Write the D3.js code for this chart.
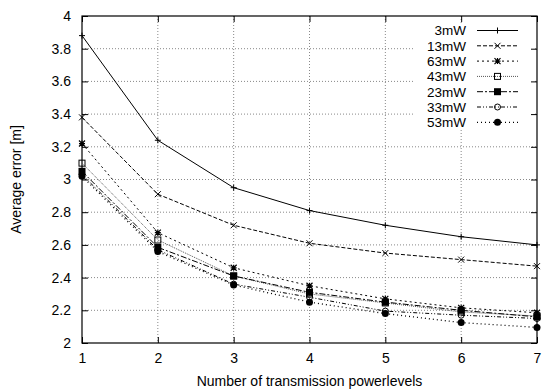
<!DOCTYPE html>
<html><head><meta charset="utf-8">
<script src="https://cdn.jsdelivr.net/npm/d3@7"></script>
<style>body{margin:0;background:#fff}text{font-family:"Liberation Sans",Arial,sans-serif}</style>
</head><body><svg id="c" width="542" height="392"></svg>
<script>
const xValues = [1,2,3,4,5,6,7];
const seriesNames = ["3mW","13mW","63mW","43mW","23mW","33mW","53mW"];
const s3mW  = [3.88,3.24,2.95,2.81,2.72,2.65,2.60];
const s13mW = [3.38,2.91,2.72,2.61,2.55,2.51,2.47];
const s63mW = [3.22,2.675,2.46,2.35,2.27,2.215,2.185];
const s43mW = [3.10,2.63,2.41,2.30,2.245,2.19,2.165];
const s23mW = [3.05,2.585,2.41,2.31,2.25,2.20,2.16];
const s33mW = [3.03,2.57,2.36,2.28,2.195,2.17,2.15];
const s53mW = [3.02,2.56,2.355,2.25,2.18,2.125,2.095];
const xTicks = [1,2,3,4,5,6,7];
const yTicks = [2,2.2,2.4,2.6,2.8,3,3.2,3.4,3.6,3.8,4];
const allSeries = [s3mW,s13mW,s63mW,s43mW,s23mW,s33mW,s53mW];

const styles = [
 {dash:null, marker:"plus", color:"#000", w:1},
 {dash:"4,2", marker:"cross", color:"#000", w:1},
 {dash:"2,3", marker:"star", color:"#000", w:1},
 {dash:"1,1", marker:"osquare", color:"#555", w:1},
 {dash:"6,2,2,2", marker:"fsquare", color:"#000", w:1},
 {dash:"4,2,1,2,1,2", marker:"ocircle", color:"#000", w:1},
 {dash:"1,3", marker:"fcircle", color:"#000", w:1.3}
];

const svg = d3.select("#c");
const L=82,R=537,T=16,B=343;
const FS=14;
const x = d3.scaleLinear().domain([1,7]).range([L,R]);
const y = d3.scaleLinear().domain([2,4]).range([B,T]);

// grid
svg.append("g").selectAll("line").data(yTicks.slice(1,-1)).join("line")
 .attr("x1",L).attr("x2",R).attr("y1",d=>y(d)).attr("y2",d=>y(d))
 .attr("stroke","#888").attr("stroke-dasharray","1,2").attr("stroke-width",1);
svg.append("g").selectAll("line").data(xTicks.slice(1,-1)).join("line")
 .attr("y1",T).attr("y2",B).attr("x1",d=>x(d)).attr("x2",d=>x(d))
 .attr("stroke","#888").attr("stroke-dasharray","1,2").attr("stroke-width",1);

// legend background
svg.append("rect").attr("x",413).attr("y",23).attr("width",122).attr("height",107).attr("fill","#fff");

// axes
const ax = svg.append("g").attr("transform",`translate(0,${B})`).call(d3.axisBottom(x).tickValues(xTicks).tickSize(-6).tickPadding(10).tickFormat(d3.format("d")));
const ay = svg.append("g").attr("transform",`translate(${L},0)`).call(d3.axisLeft(y).tickValues(yTicks).tickSize(-6).tickPadding(11).tickFormat(d=>d3.format("")(+d.toFixed(1))));
const axT = svg.append("g").attr("transform",`translate(0,${T})`).call(d3.axisTop(x).tickValues(xTicks).tickSize(-6).tickFormat(""));
const ayR = svg.append("g").attr("transform",`translate(${R},0)`).call(d3.axisRight(y).tickValues(yTicks).tickSize(-6).tickFormat(""));
[ax,ay,axT,ayR].forEach(g=>{g.select(".domain").remove();g.selectAll("text").attr("font-size",FS).attr("fill","#000").style("font-family","Liberation Sans,Arial,sans-serif");g.selectAll("line").attr("stroke","#000");});
svg.append("rect").attr("x",L).attr("y",T).attr("width",R-L).attr("height",B-T).attr("fill","none").attr("stroke","#000").attr("stroke-width",1.2);

// axis titles
svg.append("text").attr("x",(L+R)/2).attr("y",386).attr("text-anchor","middle").attr("font-size",FS).text("Number of transmission powerlevels");
svg.append("text").attr("transform",`translate(21,${(T+B)/2}) rotate(-90)`).attr("text-anchor","middle").attr("font-size",FS).text("Average error [m]");

function marker(g,type,cx,cy,color){
  const s=3;
  if(type==="plus"){g.append("path").attr("d",`M${cx-s},${cy}H${cx+s}M${cx},${cy-s}V${cy+s}`).attr("stroke",color).attr("stroke-width",1);}
  else if(type==="cross"){g.append("path").attr("d",`M${cx-s},${cy-s}L${cx+s},${cy+s}M${cx-s},${cy+s}L${cx+s},${cy-s}`).attr("stroke",color).attr("stroke-width",1);}
  else if(type==="star"){g.append("path").attr("d",`M${cx-s},${cy}H${cx+s}M${cx},${cy-s}V${cy+s}M${cx-s},${cy-s}L${cx+s},${cy+s}M${cx-s},${cy+s}L${cx+s},${cy-s}`).attr("stroke",color).attr("stroke-width",1.2);}
  else if(type==="osquare"){g.append("rect").attr("x",cx-3).attr("y",cy-3).attr("width",6).attr("height",6).attr("fill","none").attr("stroke","#000");}
  else if(type==="fsquare"){g.append("rect").attr("x",cx-3.5).attr("y",cy-3.5).attr("width",7).attr("height",7).attr("fill","#000");}
  else if(type==="ocircle"){g.append("circle").attr("cx",cx).attr("cy",cy).attr("r",3).attr("fill","none").attr("stroke","#000");}
  else if(type==="fcircle"){g.append("circle").attr("cx",cx).attr("cy",cy).attr("r",3.5).attr("fill","#000");}
}

const line = d3.line().x((d,i)=>x(xValues[i])).y(d=>y(d));
allSeries.forEach((vals,k)=>{
  const st=styles[k];
  const g=svg.append("g");
  g.append("path").attr("d",line(vals)).attr("fill","none").attr("stroke",st.color).attr("stroke-width",st.w).attr("stroke-dasharray",st.dash);
  vals.forEach((v,i)=>marker(g,st.marker,x(xValues[i]),y(v),st.color));
  // legend
  const ly=30.5+k*15.3;
  svg.append("text").attr("x",466).attr("y",ly+4.8).attr("text-anchor","end").attr("font-size",13.5).text(seriesNames[k]);
  g.append("line").attr("x1",477).attr("x2",518).attr("y1",ly).attr("y2",ly).attr("stroke",st.color).attr("stroke-width",st.w).attr("stroke-dasharray",st.dash);
  marker(g,st.marker,497.5,ly,st.color);
});
</script></body></html>
